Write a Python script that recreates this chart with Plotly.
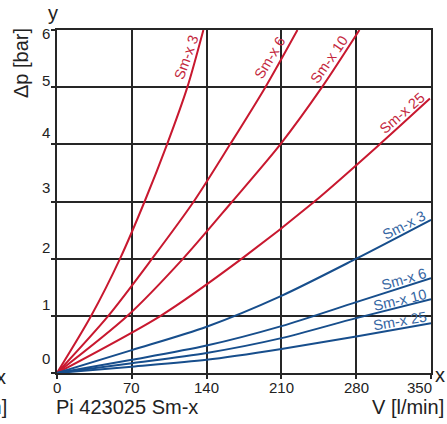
import plotly.graph_objects as go

# ---------------- data ----------------
# Upper (red) family: flow V [l/min] vs pressure drop Δp [bar]
red_sm3_v = [0, 32, 59, 82, 103, 122, 137]
red_sm3_dp = [0, 1, 2, 3, 4, 5, 6]
red_sm6_v = [0, 48, 89, 128, 162, 195, 225]
red_sm6_dp = [0, 1, 2, 3, 4, 5, 6]
red_sm10_v = [0, 66, 118, 164, 209, 248, 283]
red_sm10_dp = [0, 1, 2, 3, 4, 5, 6]
red_sm25_v = [0, 97, 173, 241, 302, 349]
red_sm25_dp = [0, 1, 2, 3, 4, 4.8]

# Lower (blue) family
blue_v = [0, 70, 140, 210, 280, 350]
blue_sm3_dp = [0, 0.40, 0.81, 1.35, 2.00, 2.68]
blue_sm6_dp = [0, 0.23, 0.48, 0.82, 1.24, 1.66]
blue_sm10_dp = [0, 0.17, 0.35, 0.61, 0.96, 1.29]
blue_sm25_dp = [0, 0.11, 0.23, 0.42, 0.64, 0.87]

series_names = ["Sm-x 3", "Sm-x 6", "Sm-x 10", "Sm-x 25"]

x_ticks = [0, 70, 140, 210, 280, 350]
y_ticks = [0, 1, 2, 3, 4, 5, 6]

title_text = "Pi 423025 Sm-x"
x_title = "V [l/min]"
y_title = "Δp [bar]"

# ---------------- styles ----------------
RED = "#c8182f"
BLUE = "#174e8c"
RED_TXT = "#c4283e"
BLUE_TXT = "#3566a3"
GRID = "#262626"
FONT = "Liberation Sans, Arial, sans-serif"

W, H = 447, 424
L, R, T, B = 57, 16, 30, 51
PW, PH = W - L - R, H - T - B


def px2paper(px, py):
    return (px - L) / PW, (H - B - py) / PH


fig = go.Figure()

red_sets = [(red_sm3_v, red_sm3_dp), (red_sm6_v, red_sm6_dp),
            (red_sm10_v, red_sm10_dp), (red_sm25_v, red_sm25_dp)]
for name, (v, dp) in zip(series_names, red_sets):
    fig.add_trace(go.Scatter(x=v, y=dp, mode="lines", name=name,
                             line=dict(color=RED, width=2, shape="spline", smoothing=0.8),
                             showlegend=False, hoverinfo="skip"))

blue_sets = [blue_sm3_dp, blue_sm6_dp, blue_sm10_dp, blue_sm25_dp]
for name, dp in zip(series_names, blue_sets):
    fig.add_trace(go.Scatter(x=blue_v, y=dp, mode="lines", name=name,
                             line=dict(color=BLUE, width=2, shape="spline", smoothing=0.8),
                             showlegend=False, hoverinfo="skip"))

ann = []
# curve labels (position in data coords, angle)
red_label_pos = [(121, 5.53, -70), (199, 5.51, -59), (255, 5.49, -55), (323, 4.55, -41)]
blue_label_pos = [(325, 2.59, -27), (325, 1.64, -16), (321, 1.28, -13), (321, 0.91, -10)]
for name, (lx, ly, ang) in zip(series_names, red_label_pos):
    ann.append(dict(x=lx, y=ly, xref="x", yref="y", text=name, showarrow=False,
                    textangle=ang, font=dict(family=FONT, size=14.5, color=RED_TXT),
                    xanchor="center", yanchor="middle"))
for name, (lx, ly, ang) in zip(series_names, blue_label_pos):
    ann.append(dict(x=lx, y=ly, xref="x", yref="y", text=name, showarrow=False,
                    textangle=ang, font=dict(family=FONT, size=14.5, color=BLUE_TXT),
                    xanchor="center", yanchor="middle"))

# y tick labels (offset upward as in the reference)
y_shift = [15, 11, 11, 14, 12, 7, -3]
for v, s in zip(y_ticks, y_shift):
    ann.append(dict(x=0, y=v, xref="x", yref="y", text=str(v), showarrow=False,
                    xanchor="right", yanchor="middle", xshift=-5, yshift=s,
                    font=dict(family=FONT, size=15, color="#222")))
# x tick labels
x_shift = [0, 0, 0, 0, 0, -12]
for v, s in zip(x_ticks, x_shift):
    ann.append(dict(x=v, y=0, xref="x", yref="y", text=str(v), showarrow=False,
                    xanchor="center", yanchor="top", xshift=s, yshift=-4,
                    font=dict(family=FONT, size=15, color="#222")))

# axis letters and titles
def add_text(text, px, py, xanchor="center", yanchor="middle", size=20, angle=0):
    x, y = px2paper(px, py)
    ann.append(dict(x=x, y=y, xref="paper", yref="paper", text=text, showarrow=False,
                    xanchor=xanchor, yanchor=yanchor, textangle=angle,
                    font=dict(family=FONT, size=size, color="#222")))

add_text("y", 53, 13)
add_text("x", 440, 375)
add_text(y_title, 21, 63, angle=-90)
add_text(title_text, 54, 407, xanchor="left")
add_text(x_title, 446, 407, xanchor="right")
# cut-off fragments of the neighbouring chart at the left edge
add_text("x", 8, 377, xanchor="right")
add_text(x_title, 9, 407, xanchor="right")

fig.update_layout(
    width=W, height=H,
    margin=dict(l=L, r=R, t=T, b=B, pad=0),
    paper_bgcolor="white", plot_bgcolor="white",
    annotations=ann,
    font=dict(family=FONT),
)
fig.update_xaxes(range=[0, 350], tickvals=x_ticks, showticklabels=False,
                 showgrid=True, gridcolor=GRID, gridwidth=1.6,
                 showline=True, linecolor=GRID, linewidth=2, mirror=True,
                 ticks="outside", ticklen=4, tickcolor=GRID, tickwidth=1.5,
                 zeroline=False, fixedrange=True)
fig.update_yaxes(range=[0, 6], tickvals=y_ticks, showticklabels=False,
                 showgrid=True, gridcolor=GRID, gridwidth=1.6,
                 showline=True, linecolor=GRID, linewidth=2, mirror=True,
                 ticks="outside", ticklen=4, tickcolor=GRID, tickwidth=1.5,
                 zeroline=False, fixedrange=True)

fig.write_html("out.html", config={"displayModeBar": False},
               post_script="document.body.style.margin='0';document.body.style.overflow='hidden';")
